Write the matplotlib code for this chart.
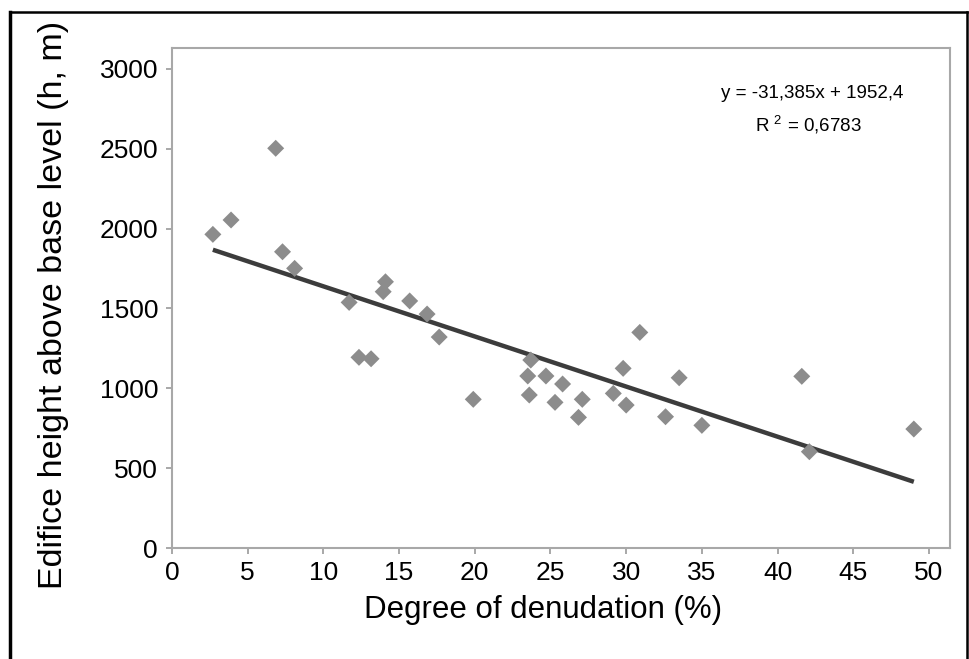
import matplotlib
matplotlib.use("Agg")
import matplotlib.pyplot as plt
from matplotlib.lines import Line2D
import numpy as np

plt.rcParams['font.family'] = ['Liberation Sans', 'DejaVu Sans']
plt.rcParams['mathtext.fontset'] = 'custom'
plt.rcParams['mathtext.rm'] = 'Liberation Sans'

# Data
denudation = [2.7, 3.9, 6.85, 7.3, 8.1, 11.7, 12.35, 13.15, 14.1, 13.95, 15.7, 16.85, 17.65,
              19.9, 23.7, 23.5, 23.6, 24.7, 25.8, 25.3, 26.85, 27.1, 29.15, 29.8, 30.0,
              30.9, 32.6, 33.5, 35.0, 41.6, 42.1, 49.0]
height = [1964, 2054, 2503, 1855, 1751, 1538, 1194, 1185, 1667, 1605, 1547, 1465, 1321,
          931, 1177, 1077, 958, 1077, 1027, 912, 818, 931, 968, 1125, 895,
          1350, 822, 1066, 768, 1075, 603, 745]
slope = -31.385
intercept = 1952.4
eq_text = "y = -31,385x + 1952,4"
r2_text = "0,6783"
x_ticks = [0, 5, 10, 15, 20, 25, 30, 35, 40, 45, 50]
y_ticks = [0, 500, 1000, 1500, 2000, 2500, 3000]

fig = plt.figure(figsize=(9.7, 6.59), dpi=100)
ax = fig.add_axes([172/970, 1-548/659, (950-172)/970, (548-48)/659])

ax.scatter(denudation, height, marker='D', s=75, color='#8c8c8c', edgecolors='none', zorder=3)
xs = np.array([min(denudation), max(denudation)])
ax.plot(xs, slope*xs + intercept, color='#3c3c3c', lw=3.2, zorder=2, solid_capstyle='butt')

ax.set_xlim(0, 51.39)
ax.set_ylim(0, 3131)
ax.set_xticks(x_ticks)
ax.set_yticks(y_ticks)
ax.tick_params(axis='both', labelsize=19, colors='#999999', labelcolor='black',
               length=4, width=1.2, direction='out')
ax.tick_params(axis='x', pad=5)
ax.tick_params(axis='y', pad=6)
for sp in ax.spines.values():
    sp.set_color('#a8a8a8')
    sp.set_linewidth(1.5)

ax.set_xlabel('Degree of denudation (%)', fontsize=22.5)
ax.xaxis.set_label_coords((543-172)/778, -(610-548)/500)
ax.xaxis.label.set_va('center')
ax.set_ylabel('Edifice height above base level (h, m)', fontsize=24.5)
ax.yaxis.set_label_coords(-(172-54)/778, (548-305)/500)
ax.yaxis.label.set_va('center')

fig.text(812/970, 1-93/659, eq_text, fontsize=13.5, ha='center', va='center')
fig.text(808/970, 1-125/659, 'R $^{2}$ = ' + r2_text, fontsize=13.5, ha='center', va='center')

# outer frame
fig.add_artist(Line2D([10/970, 10/970], [0, 1-12/659], color='black', lw=2.5, transform=fig.transFigure))
fig.add_artist(Line2D([10/970, 967/970], [1-12/659, 1-12/659], color='black', lw=1.8, transform=fig.transFigure))
fig.add_artist(Line2D([967/970, 967/970], [0, 1-12/659], color='black', lw=1.8, transform=fig.transFigure))

fig.savefig('out.png', dpi=100)
